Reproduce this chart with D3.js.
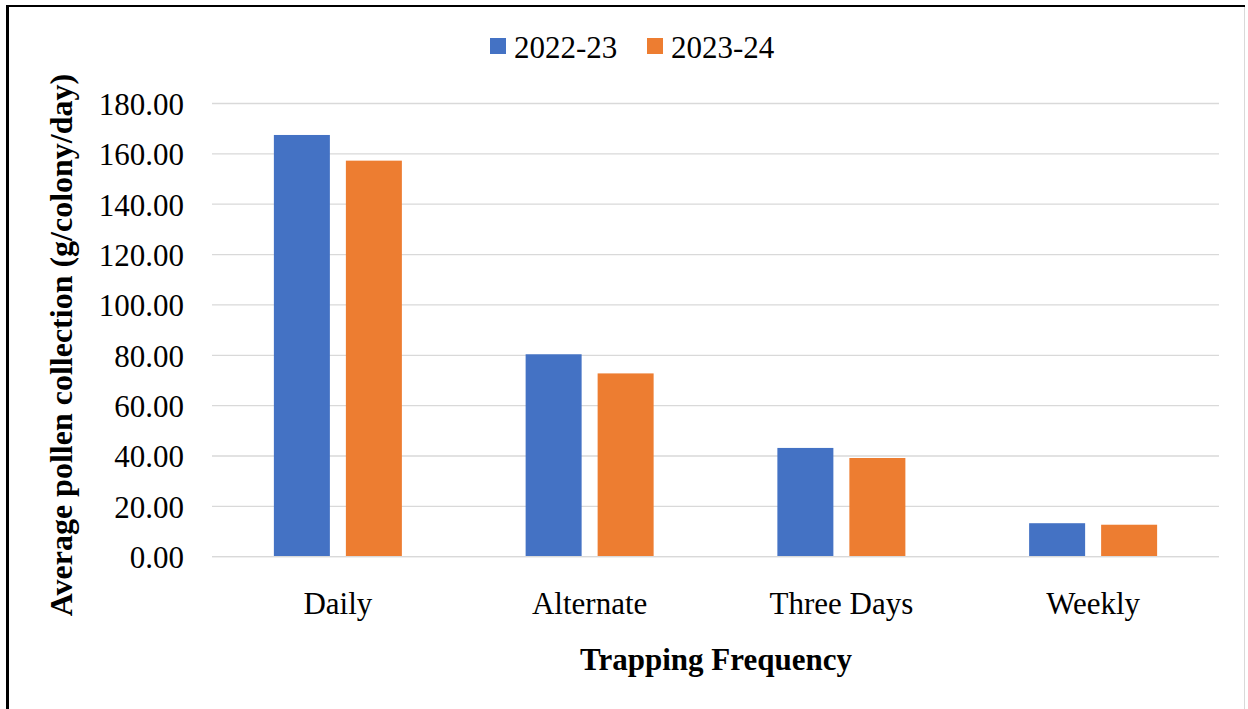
<!DOCTYPE html>
<html><head><meta charset="utf-8">
<script src="https://cdn.jsdelivr.net/npm/d3@7/dist/d3.min.js"></script>
<style>body{margin:0;background:#fff}svg{display:block}text{font-family:"Liberation Serif","Times New Roman",serif}</style>
</head><body><svg id="c" width="1248" height="709"></svg>
<script>
const categories = ["Daily", "Alternate", "Three Days", "Weekly"];
const seriesNames = ["2022-23", "2023-24"];
const values2022 = [167.5, 80.4, 43.2, 13.3];
const values2023 = [157.3, 72.8, 39.2, 12.7];
const yTicks = [0, 20, 40, 60, 80, 100, 120, 140, 160, 180];
const colors = ["#4472C4", "#ED7D31"];

(function(){
const svg = d3.select("#c");
const FS = 31;
// frame
svg.append("rect").attr("x",7.5).attr("y",6).attr("width",1237).attr("height",720)
  .attr("fill","none").attr("stroke","#d9d9d9").attr("stroke-width",1);
svg.append("line").attr("x1",7.5).attr("x2",7.5).attr("y1",5).attr("y2",709).attr("stroke","#000").attr("stroke-width",3);
svg.append("line").attr("x1",6).attr("x2",1245).attr("y1",6).attr("y2",6).attr("stroke","#000").attr("stroke-width",2);

const pLeft = 212, pRight = 1219, pTop = 103.5, pBottom = 556.7;
const x = d3.scaleBand().domain(categories).range([pLeft, pRight]);
const y = d3.scaleLinear().domain([0, 180]).range([pBottom, pTop]);
const barW = 56, gap = 16;

// gridlines
svg.append("g").selectAll("line").data(yTicks).join("line")
  .attr("x1", pLeft).attr("x2", pRight)
  .attr("y1", d => y(d)).attr("y2", d => y(d))
  .attr("stroke", "#d9d9d9").attr("stroke-width", 1.3);

// y axis labels
const yAxis = d3.axisLeft(y).tickValues(yTicks).tickFormat(d3.format(".2f")).tickSize(0).tickPadding(0);
const gy = svg.append("g").attr("transform", `translate(184,0)`).call(yAxis);
gy.select(".domain").remove();
gy.selectAll("text").attr("font-size", FS).attr("fill", "#000").attr("dy","0.35em");

// bars
const data = categories.map((c, i) => ({c, v: [values2022[i], values2023[i]]}));
const g = svg.append("g");
data.forEach(d => {
  const cx = x(d.c) + x.bandwidth() / 2;
  d.v.forEach((v, j) => {
    const bx = j === 0 ? cx - gap/2 - barW : cx + gap/2;
    g.append("rect").attr("x", bx).attr("width", barW)
      .attr("y", y(v)).attr("height", y(0) - y(v)).attr("fill", colors[j]);
  });
});
// baseline
svg.append("line").attr("x1", pLeft).attr("x2", pRight).attr("y1", y(0)).attr("y2", y(0))
  .attr("stroke", "#d9d9d9").attr("stroke-width", 1.3);

// x axis labels
const xAxis = d3.axisBottom(x).tickSize(0).tickPadding(0);
const gx = svg.append("g").attr("transform", `translate(0,${pBottom})`).call(xAxis);
gx.select(".domain").remove();
gx.selectAll("text").attr("font-size", FS).attr("fill", "#000").attr("dy", null).attr("y", 57);

// axis titles
svg.append("text").attr("x", 716).attr("y", 670).attr("text-anchor", "middle")
  .attr("font-size", FS).attr("font-weight", "bold").text("Trapping Frequency");
svg.append("text").attr("transform", "translate(72,345) rotate(-90)").attr("text-anchor", "middle")
  .attr("font-size", 32).attr("font-weight", "bold").text("Average pollen collection (g/colony/day)");

// legend
const legX = [490, 647];
seriesNames.forEach((s, i) => {
  svg.append("rect").attr("x", legX[i]).attr("y", 38).attr("width", 16).attr("height", 16).attr("fill", colors[i]);
  svg.append("text").attr("x", legX[i] + 24).attr("y", 58).attr("font-size", FS).text(s);
});
})();
</script></body></html>
